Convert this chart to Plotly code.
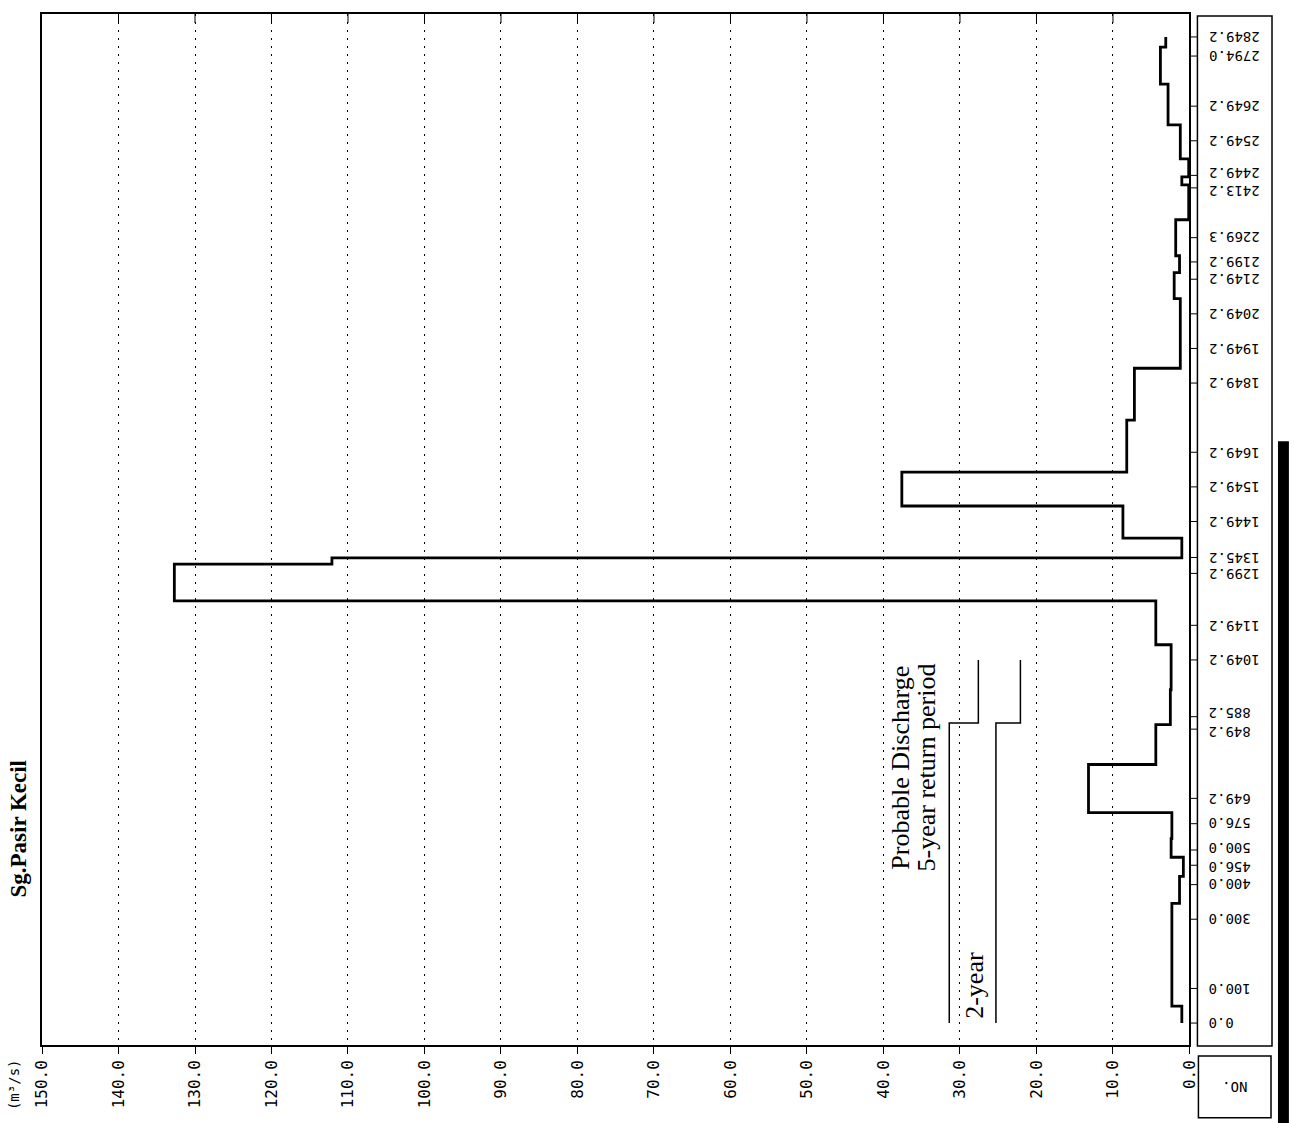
import plotly.graph_objects as go

# ---------------- data ----------------
section_dist = [0.0, 100.0, 300.0, 400.0, 456.0, 500.0, 576.0, 649.2, 849.2, 885.2,
                1049.2, 1149.2, 1299.2, 1345.2, 1449.2, 1549.2, 1649.2, 1849.2, 1949.2,
                2049.2, 2149.2, 2199.2, 2269.3, 2413.2, 2449.2, 2549.2, 2649.2, 2794.0, 2849.2]
section_labels = ["0.0", "100.0", "300.0", "400.0", "456.0", "500.0", "576.0", "649.2",
                  "849.2", "885.2", "1049.2", "1149.2", "1299.2", "1345.2", "1449.2",
                  "1549.2", "1649.2", "1849.2", "1949.2", "2049.2", "2149.2", "2199.2",
                  "2269.3", "2413.2", "2449.2", "2549.2", "2649.2", "2794.0", "2849.2"]

# flow capacity profile: change points along the river (m) and discharge (m3/s)
step_bounds = [0, 49, 346, 424, 479, 533, 608, 747, 862, 963, 1093, 1220, 1326, 1344,
               1401, 1494, 1592, 1742, 1892, 2093, 2168, 2217, 2321, 2422, 2445, 2497,
               2595, 2713, 2820, 2849.2]
step_q = [1.0, 2.3, 1.3, 0.8, 2.4, 2.3, 13.2, 4.4, 2.5, 2.4, 4.4, 132.7, 112.1, 1.0,
          8.7, 37.6, 8.2, 7.2, 1.2, 2.0, 1.3, 1.8, 0.1, 1.0, 0.1, 1.2, 2.8, 3.8, 3.1]

# probable discharge
prob_bounds = [0.0, 867.2, 1049.2]
q_5yr = [31.4, 27.6]
q_2yr = [25.3, 22.1]

q_ticks = [150, 140, 130, 120, 110, 100, 90, 80, 70, 60, 50, 40, 30, 20, 10, 0]
q_tick_text = ["150.0", "140.0", "130.0", "120.0", "110.0", "100.0", "90.0", "80.0",
               "70.0", "60.0", "50.0", "40.0", "30.0", "20.0", "10.0", "0.0"]

# ---------------- geometry (pixels in the page) ----------------
W, H = 1294, 1123
PL, PX0, PR, PT, PB = 42, 1196, 1280, 12, 1045
pw, ph = PR - PL, PB - PT


def px(xp):
    return (xp - PL) / pw


def py(yp):
    return (PB - yp) / ph


MONO = "DejaVu Sans Mono"
SERIF = "Liberation Serif"


def steps(bounds, vals):
    xs, ys = [], []
    for i, v in enumerate(vals):
        xs += [v, v]
        ys += [bounds[i], bounds[i + 1]]
    return xs, ys


fig = go.Figure()

sx, sy = steps(step_bounds, step_q)
fig.add_trace(go.Scatter(x=sx, y=sy, mode="lines", line=dict(color="black", width=2.8),
                         showlegend=False, hoverinfo="skip"))

for qv in (q_5yr, q_2yr):
    x5, y5 = steps(prob_bounds, qv)
    fig.add_trace(go.Scatter(x=x5, y=y5, mode="lines", line=dict(color="black", width=1.5),
                             showlegend=False, hoverinfo="skip"))

# section ticks in the label strip
tx, ty = [], []
for d in section_dist:
    tx += [0, 8, None]
    ty += [d, d, None]
fig.add_trace(go.Scatter(x=tx, y=ty, xaxis="x2", yaxis="y", mode="lines",
                         line=dict(color="black", width=1), showlegend=False,
                         hoverinfo="skip"))

label_shift = {"2449.2": 3, "2413.2": -3, "885.2": 3, "849.2": -3, "500.0": 2, "456.0": -2}

annotations = []
for d, lab in zip(section_dist, section_labels):
    annotations.append(dict(x=17, y=d, xref="x2", yref="y", text=lab, showarrow=False,
                            textangle=180, xanchor="left", yanchor="middle",
                            yshift=label_shift.get(lab, 0),
                            font=dict(family=MONO, size=14, color="black")))


def note(xp, yp, text, family, size, angle=-90):
    return dict(x=px(xp), y=py(yp), xref="paper", yref="paper", text=text,
                showarrow=False, textangle=angle, xanchor="center", yanchor="middle",
                font=dict(family=family, size=size, color="black"))


annotations += [
    note(18, 828, "<b>Sg.Pasir Kecil</b>", SERIF, 23),
    note(14, 1085, "(m³/s)", MONO, 14),
    note(905, 767, "Probable Discharge", SERIF, 26),
    note(932, 767, "5-year return period", SERIF, 26),
    note(979, 985, "2-year", SERIF, 26),
    note(1242, 1087, "NO.", MONO, 14, 180),
]

shapes = [
    dict(type="rect", xref="x2", yref="paper", x0=8, x1=83, y0=py(1046), y1=py(14),
         line=dict(color="black", width=1.5)),
    dict(type="rect", xref="paper", yref="paper", x0=px(1205), x1=px(1278),
         y0=py(1118), y1=py(1056), line=dict(color="black", width=1.5)),
    dict(type="rect", xref="paper", yref="paper", x0=px(1285), x1=px(1296),
         y0=py(1125), y1=py(440), line=dict(width=0), fillcolor="black"),
]
# small ticks hanging from the top frame
for q in q_ticks[1:-1]:
    shapes.append(dict(type="line", xref="x", yref="paper", x0=q, x1=q, y0=1,
                       y1=1 - 9 / ph, line=dict(color="black", width=1)))

xdom = (PX0 - PL) / pw
fig.update_layout(
    width=W, height=H, autosize=False,
    margin=dict(l=PL, r=W - PR, t=PT, b=H - PB),
    paper_bgcolor="white", plot_bgcolor="white",
    xaxis=dict(domain=[0, xdom], range=[150, 0], tickvals=q_ticks, ticktext=q_tick_text,
               tickangle=-90, ticks="outside", ticklen=7, tickcolor="black",
               tickfont=dict(family=MONO, size=16, color="black"),
               showgrid=True, gridcolor="black", griddash="2px,6px", gridwidth=1,
               showline=True, linecolor="black", linewidth=1.5, mirror=True,
               zeroline=False, anchor="y"),
    xaxis2=dict(domain=[xdom, 1], range=[0, 84], showgrid=False, zeroline=False,
                showline=False, showticklabels=False, ticks="", anchor="y"),
    yaxis=dict(range=[-63.4, 2915.5], showgrid=False, zeroline=False,
               showticklabels=False, ticks="", showline=True, linecolor="black",
               linewidth=1.5, mirror=True, anchor="x"),
    annotations=annotations,
    shapes=shapes,
)

fig.write_html("out.html", config={"displayModeBar": False},
               post_script="document.body.style.margin='0';")
